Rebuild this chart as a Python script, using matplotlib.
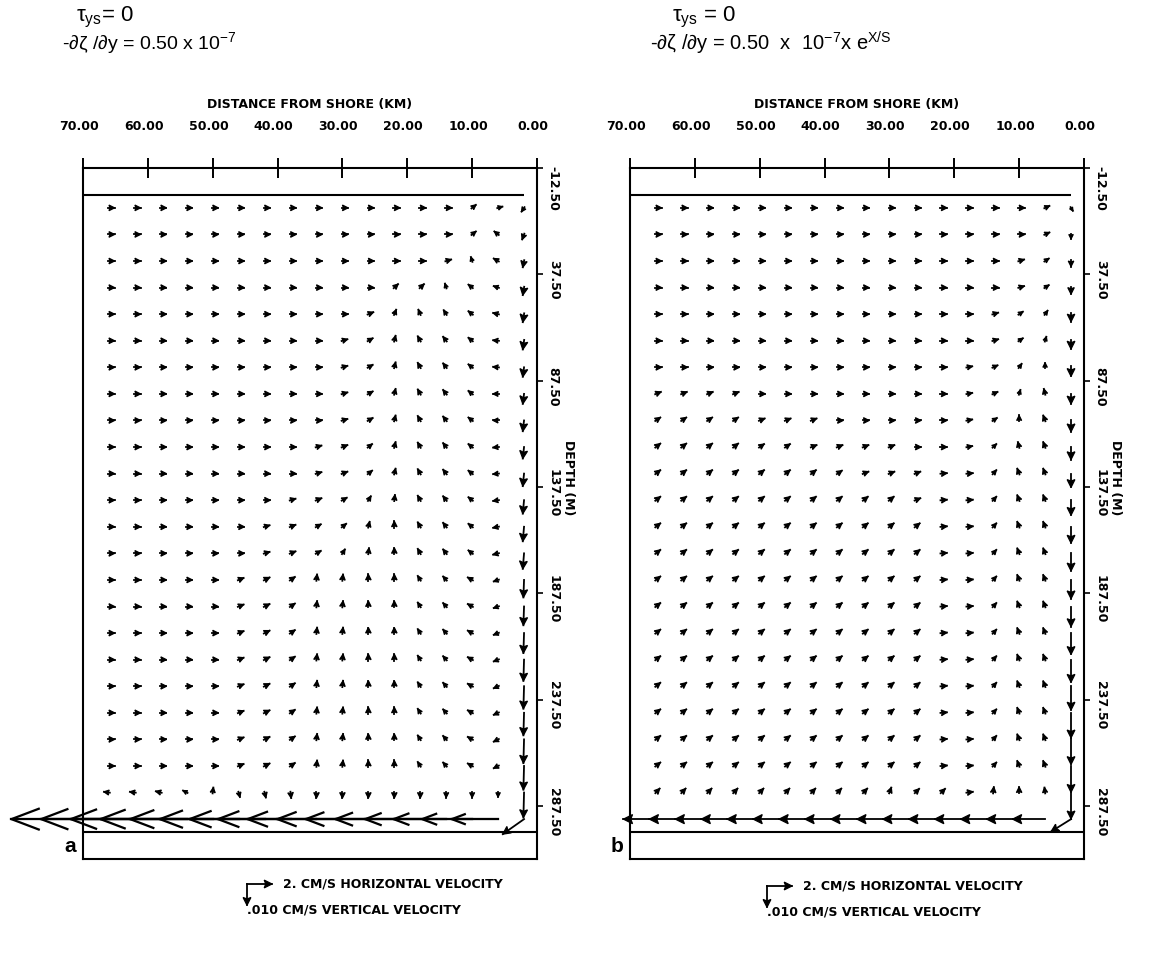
import numpy as np
import matplotlib
matplotlib.use('Agg')
import matplotlib.pyplot as plt
from matplotlib import transforms as mtransforms
from matplotlib.lines import Line2D
from matplotlib.patches import Polygon

plt.rcParams['font.family'] = ['DejaVu Sans']
plt.rcParams['mathtext.fontset'] = 'custom'
plt.rcParams['mathtext.rm'] = 'Liberation Sans'
plt.rcParams['mathtext.it'] = 'Liberation Sans:italic'

# ---- grid of the model (km from shore, depth in m)
DIST_KM = [66, 62, 58, 54, 50, 46, 42, 38, 34, 30, 26, 22, 18, 14, 10, 6, 2]
DEPTH_M = [6.25, 18.75, 31.25, 43.75, 56.25, 68.75, 81.25, 93.75, 106.25, 118.75,
           131.25, 143.75, 156.25, 168.75, 181.25, 193.75, 206.25, 218.75, 231.25,
           243.75, 256.25, 268.75, 281.25, 293.75]
XTICKS = [70, 60, 50, 40, 30, 20, 10, 0]
YTICKS = [-12.5, 37.5, 87.5, 137.5, 187.5, 237.5, 287.5]
SURFACE_M, BOTTOM_M = 0.0, 300.0
SURFACE_END_KM = 2.0
H_REF = 2.0      # cm/s  (legend horizontal arrow)
V_REF = 0.010    # cm/s  (legend vertical arrow)

# horizontal velocity u (cm/s, + onshore) and vertical velocity w (1e-3 cm/s, + up)
# panel a
U_A = [
    [.45, .45, .45, .45, .45, .45, .45, .45, .45, .45, .45, .45, .45, .45, .30, .35, -.20],
    [.45, .45, .45, .45, .45, .45, .45, .45, .45, .45, .45, .45, .45, .45, .30, -.30, -.15],
    [.45, .45, .45, .45, .45, .45, .45, .45, .45, .45, .45, .45, .45, .40, -.10, -.35, -.10],
    [.45, .45, .45, .45, .45, .45, .45, .45, .45, .45, .45, .30, .30, -.10, -.30, -.35, -.10],
    [.45, .45, .45, .45, .45, .45, .45, .45, .45, .45, .40, .15, -.15, -.20, -.30, -.40, -.10],
    [.45, .45, .45, .45, .45, .45, .45, .45, .45, .40, .35, .10, -.20, -.25, -.30, -.40, -.10],
    [.45, .45, .45, .45, .45, .45, .45, .45, .45, .40, .35, .10, -.20, -.25, -.30, -.40, -.10],
    [.45, .45, .45, .45, .45, .45, .45, .45, .45, .40, .35, .10, -.20, -.25, -.30, -.40, -.10],
    [.45, .45, .45, .45, .45, .45, .45, .45, .45, .40, .35, .10, -.20, -.25, -.30, -.40, -.10],
    [.45, .45, .45, .45, .45, .45, .45, .45, .40, .40, .30, .10, -.20, -.25, -.30, -.40, -.10],
    [.45, .45, .45, .45, .45, .45, .45, .45, .40, .40, .30, .10, -.20, -.25, -.30, -.40, -.10],
    [.45, .45, .45, .45, .45, .45, .45, .40, .40, .35, .20, .05, -.20, -.25, -.30, -.40, -.10],
    [.45, .45, .45, .45, .45, .45, .40, .40, .35, .30, .10, .00, -.20, -.25, -.30, -.40, -.10],
    [.45, .45, .45, .45, .45, .45, .40, .40, .35, .20, .05, .00, -.20, -.25, -.30, -.40, -.10],
    [.45, .45, .45, .45, .45, .40, .40, .35, .05, .05, .00, .00, -.20, -.25, -.35, -.35, -.05],
    [.45, .45, .45, .45, .45, .40, .40, .35, .05, .05, .00, .00, -.20, -.25, -.35, -.35, -.05],
    [.45, .45, .45, .45, .45, .40, .40, .35, .05, .05, .00, .00, -.20, -.25, -.35, -.35, -.05],
    [.45, .45, .45, .45, .45, .40, .40, .35, .05, .05, .00, .00, -.20, -.25, -.35, -.35, -.05],
    [.45, .45, .45, .45, .45, .40, .40, .35, .05, .05, .00, .00, -.20, -.25, -.35, -.35, -.05],
    [.45, .45, .45, .45, .45, .40, .40, .35, .05, .05, .00, .00, -.20, -.25, -.35, -.35, -.05],
    [.45, .45, .45, .45, .45, .40, .40, .35, .05, .05, .00, .00, -.20, -.25, -.35, -.35, -.05],
    [.45, .45, .45, .45, .45, .40, .40, .35, .05, .05, .00, .00, -.20, -.25, -.35, -.35, -.05],
    [-.40, -.40, -.40, -.30, .05, .10, .10, .05, .00, .00, .00, .00, .00, .00, .00, .00, -.05],
    [-7.8, -7.5, -7.2, -6.9, -6.6, -6.3, -6.0, -5.8, -5.5, -5.2, -5.0, -4.7, -4.4, -4.2, -4.0, -3.7, -1.7],
]
W_A = [
    [0, 0, 0, 0, 0, 0, 0, 0, 0, 0, 0, 0, 0, 0, 1.2, .5, -1.5],
    [0, 0, 0, 0, 0, 0, 0, 0, 0, 0, 0, 0, 0, 0, 1.2, 1.2, -2.0],
    [0, 0, 0, 0, 0, 0, 0, 0, 0, 0, 0, 0, 0, .6, 1.6, 1.0, -2.5],
    [0, 0, 0, 0, 0, 0, 0, 0, 0, 0, 0, 1.4, 1.4, 1.6, 1.2, .6, -3.0],
    [0, 0, 0, 0, 0, 0, 0, 0, 0, 0, .8, 1.8, 1.8, 1.6, 1.2, .5, -3.2],
    [0, 0, 0, 0, 0, 0, 0, 0, 0, .6, 1.0, 2.0, 1.8, 1.6, 1.2, .2, -3.5],
    [0, 0, 0, 0, 0, 0, 0, 0, 0, .6, 1.0, 2.0, 1.8, 1.6, 1.2, .2, -3.8],
    [0, 0, 0, 0, 0, 0, 0, 0, 0, .6, 1.0, 2.0, 1.8, 1.6, 1.2, .0, -4.0],
    [0, 0, 0, 0, 0, 0, 0, 0, 0, .6, 1.0, 2.0, 1.8, 1.6, 1.2, .0, -4.3],
    [0, 0, 0, 0, 0, 0, 0, 0, .6, .8, 1.2, 2.0, 1.8, 1.6, 1.2, -.2, -4.6],
    [0, 0, 0, 0, 0, 0, 0, 0, .6, .8, 1.2, 2.0, 1.8, 1.6, 1.2, -.2, -5.0],
    [0, 0, 0, 0, 0, 0, 0, .6, .8, 1.0, 1.6, 2.1, 1.8, 1.6, 1.2, -.3, -5.4],
    [0, 0, 0, 0, 0, 0, .6, .8, 1.0, 1.2, 2.0, 2.2, 1.8, 1.6, 1.2, -.4, -5.8],
    [0, 0, 0, 0, 0, 0, .6, .8, 1.0, 1.6, 2.1, 2.2, 1.8, 1.6, 1.2, -.5, -6.2],
    [0, 0, 0, 0, 0, .8, 1.0, 1.2, 2.2, 2.2, 2.2, 2.2, 1.6, 1.4, 1.0, -.6, -7.0],
    [0, 0, 0, 0, 0, .8, 1.0, 1.2, 2.2, 2.2, 2.2, 2.2, 1.6, 1.4, 1.0, -.6, -7.5],
    [0, 0, 0, 0, 0, .8, 1.0, 1.2, 2.2, 2.2, 2.2, 2.2, 1.6, 1.4, 1.0, -.7, -8.0],
    [0, 0, 0, 0, 0, .8, 1.0, 1.2, 2.2, 2.2, 2.2, 2.2, 1.6, 1.4, 1.0, -.7, -8.5],
    [0, 0, 0, 0, 0, .8, 1.0, 1.2, 2.2, 2.2, 2.2, 2.2, 1.6, 1.4, 1.0, -.8, -9.0],
    [0, 0, 0, 0, 0, .8, 1.0, 1.2, 2.2, 2.2, 2.2, 2.2, 1.6, 1.4, 1.0, -.8, -9.0],
    [0, 0, 0, 0, 0, .8, 1.0, 1.2, 2.2, 2.2, 2.2, 2.2, 1.6, 1.4, 1.0, -.9, -9.5],
    [0, 0, 0, 0, 0, .8, 1.0, 1.2, 2.2, 2.2, 2.2, 2.2, 1.6, 1.4, 1.0, -.9, -9.5],
    [.3, .3, .5, .8, 2.0, -1.8, -2.0, -2.2, -2.2, -2.2, -2.2, -2.2, -2.2, -2.0, -2.0, -1.8, -10.0],
    [0, 0, 0, 0, 0, 0, 0, 0, 0, 0, 0, 0, 0, 0, 0, 0, -6.0],
]
# panel b
U_B = [
    [.45, .45, .45, .45, .45, .45, .45, .45, .45, .45, .45, .45, .45, .45, .45, .35, .15],
    [.45, .45, .45, .45, .45, .45, .45, .45, .45, .45, .45, .45, .45, .45, .45, .35, .00],
    [.45, .45, .45, .45, .45, .45, .45, .45, .45, .45, .45, .45, .45, .45, .40, .30, .00],
    [.45, .45, .45, .45, .45, .45, .45, .45, .45, .45, .45, .45, .45, .45, .40, .30, .00],
    [.45, .45, .45, .45, .45, .45, .45, .45, .45, .45, .45, .45, .45, .40, .30, .20, .00],
    [.45, .45, .45, .45, .45, .45, .45, .45, .45, .45, .45, .45, .45, .40, .30, .10, .00],
    [.45, .45, .45, .45, .45, .45, .45, .45, .45, .45, .45, .45, .40, .35, .20, .00, .00],
    [.40, .40, .40, .40, .45, .45, .45, .45, .45, .45, .45, .45, .40, .35, .10, -.10, .00],
    [.35, .35, .35, .35, .40, .40, .40, .45, .45, .45, .45, .45, .40, .30, .00, -.15, .00],
    [.35, .35, .35, .35, .35, .35, .40, .40, .40, .40, .45, .45, .40, .25, -.10, -.15, .00],
    [.35, .35, .35, .35, .35, .35, .35, .35, .40, .40, .40, .45, .45, .25, -.15, -.15, .00],
    [.35, .35, .35, .35, .35, .35, .35, .35, .35, .35, .40, .45, .45, .25, -.15, -.15, .00],
    [.35, .35, .35, .35, .35, .35, .35, .35, .35, .35, .35, .45, .45, .25, -.15, -.15, .00],
    [.35, .35, .35, .35, .35, .35, .35, .35, .35, .35, .35, .45, .45, .25, -.15, -.15, .00],
    [.35, .35, .35, .35, .35, .35, .35, .35, .35, .35, .35, .45, .45, .25, -.15, -.15, .00],
    [.35, .35, .35, .35, .35, .35, .35, .35, .35, .35, .35, .45, .45, .25, -.15, -.15, .00],
    [.35, .35, .35, .35, .35, .35, .35, .35, .35, .35, .35, .45, .45, .25, -.15, -.15, .00],
    [.35, .35, .35, .35, .35, .35, .35, .35, .35, .35, .35, .45, .45, .25, -.15, -.15, .00],
    [.35, .35, .35, .35, .35, .35, .35, .35, .35, .35, .35, .45, .45, .25, -.15, -.15, .00],
    [.35, .35, .35, .35, .35, .35, .35, .35, .35, .35, .35, .45, .45, .25, -.15, -.15, .00],
    [.35, .35, .35, .35, .35, .35, .35, .35, .35, .35, .35, .45, .45, .25, -.15, -.15, .00],
    [.35, .35, .35, .35, .35, .35, .35, .35, .35, .35, .35, .45, .45, .25, -.15, -.15, .00],
    [.30, .30, .30, .30, .30, .30, .30, .30, .30, .15, .30, .30, .45, .05, .00, -.05, .00],
    [-2.6, -2.6, -2.6, -2.6, -2.6, -2.6, -2.6, -2.6, -2.6, -2.6, -2.6, -2.6, -2.6, -2.6, -2.6, -2.6, -1.6],
]
W_B = [
    [0, 0, 0, 0, 0, 0, 0, 0, 0, 0, 0, 0, 0, 0, 0, .8, -1.2],
    [0, 0, 0, 0, 0, 0, 0, 0, 0, 0, 0, 0, 0, 0, 0, .8, -1.8],
    [0, 0, 0, 0, 0, 0, 0, 0, 0, 0, 0, 0, 0, 0, .6, 1.0, -2.2],
    [0, 0, 0, 0, 0, 0, 0, 0, 0, 0, 0, 0, 0, 0, .6, 1.0, -2.6],
    [0, 0, 0, 0, 0, 0, 0, 0, 0, 0, 0, 0, 0, .6, 1.0, 1.4, -3.0],
    [0, 0, 0, 0, 0, 0, 0, 0, 0, 0, 0, 0, 0, .6, 1.0, 1.6, -3.3],
    [0, 0, 0, 0, 0, 0, 0, 0, 0, 0, 0, 0, .4, .8, 1.4, 1.8, -3.6],
    [.8, .8, .8, .8, 0, 0, 0, 0, 0, 0, 0, 0, .4, .8, 1.6, 2.0, -4.0],
    [1.2, 1.2, 1.2, 1.2, .8, .8, .8, 0, 0, 0, 0, 0, .4, 1.0, 2.0, 2.0, -4.5],
    [1.4, 1.4, 1.4, 1.4, 1.2, 1.2, .8, .8, .8, .8, 0, 0, .4, 1.2, 2.0, 2.0, -5.0],
    [1.4, 1.4, 1.4, 1.4, 1.4, 1.4, 1.4, 1.2, .8, .8, .8, .2, .2, 1.4, 2.0, 2.0, -5.5],
    [1.4, 1.4, 1.4, 1.4, 1.4, 1.4, 1.4, 1.4, 1.4, 1.4, .8, .2, .2, 1.4, 2.0, 2.0, -6.0],
    [1.4, 1.4, 1.4, 1.4, 1.4, 1.4, 1.4, 1.4, 1.4, 1.4, 1.4, .2, .2, 1.4, 2.0, 2.0, -6.5],
    [1.4, 1.4, 1.4, 1.4, 1.4, 1.4, 1.4, 1.4, 1.4, 1.4, 1.4, .2, .2, 1.4, 2.0, 2.0, -7.0],
    [1.4, 1.4, 1.4, 1.4, 1.4, 1.4, 1.4, 1.4, 1.4, 1.4, 1.4, .2, .2, 1.4, 2.0, 2.0, -7.5],
    [1.4, 1.4, 1.4, 1.4, 1.4, 1.4, 1.4, 1.4, 1.4, 1.4, 1.4, .2, .2, 1.4, 2.0, 2.0, -8.0],
    [1.4, 1.4, 1.4, 1.4, 1.4, 1.4, 1.4, 1.4, 1.4, 1.4, 1.4, .2, .2, 1.4, 2.0, 2.0, -8.5],
    [1.4, 1.4, 1.4, 1.4, 1.4, 1.4, 1.4, 1.4, 1.4, 1.4, 1.4, .2, .2, 1.4, 2.0, 2.0, -9.0],
    [1.4, 1.4, 1.4, 1.4, 1.4, 1.4, 1.4, 1.4, 1.4, 1.4, 1.4, .2, .2, 1.4, 2.0, 2.0, -9.5],
    [1.4, 1.4, 1.4, 1.4, 1.4, 1.4, 1.4, 1.4, 1.4, 1.4, 1.4, .2, .2, 1.4, 2.0, 2.0, -10.0],
    [1.4, 1.4, 1.4, 1.4, 1.4, 1.4, 1.4, 1.4, 1.4, 1.4, 1.4, .2, .2, 1.4, 2.0, 2.0, -10.0],
    [1.4, 1.4, 1.4, 1.4, 1.4, 1.4, 1.4, 1.4, 1.4, 1.4, 1.4, .2, .2, 1.4, 2.0, 2.0, -10.5],
    [1.6, 1.6, 1.6, 1.6, 1.6, 1.6, 1.6, 1.6, 1.6, 2.0, 1.5, 1.5, .3, 2.2, 2.2, 2.0, -10.5],
    [0, 0, 0, 0, 0, 0, 0, 0, 0, 0, 0, 0, 0, 0, 0, 0, -5.0],
]

TITLES_A = ['τ$_{\\mathrm{ys}}$= 0', '-∂ζ /∂y = 0.50 x 10$^{-7}$']
TITLES_B = ['τ$_{\\mathrm{ys}}$ = 0', '-∂ζ /∂y = 0.50  x  10$^{-7}$x e$^{\\mathrm{X/S}}$']

LREF_PT = 18.0
HEAD_MIN_PT = 5.6
LBL = dict(fontsize=9, fontweight='bold', family='DejaVu Sans')
TFONT = ['Liberation Sans', 'DejaVu Sans']

fig = plt.figure(figsize=(11.56, 9.64), dpi=100)


def draw_arrow(ax, x, y, dx, dy, trans, lw=1.3):
    # dx, dy in points, arrow tail sits at (x, y) of trans
    L = np.hypot(dx, dy)
    if L < 0.2:
        return
    ex, ey = dx / L, dy / L
    nx, ny = -ey, ex
    h = max(0.28 * L, min(L, HEAD_MIN_PT))
    big = h > 8
    hw = (0.38 if big else 0.5) * h
    bx, by = dx - h * ex, dy - h * ey
    p1 = (bx + hw * nx, by + hw * ny)
    p2 = (bx - hw * nx, by - hw * ny)
    notch = (dx - 0.8 * h * ex, dy - 0.8 * h * ey)
    t = (mtransforms.Affine2D().scale(1 / 72.) + fig.dpi_scale_trans
         + mtransforms.ScaledTranslation(x, y, trans))
    # small arrows: let the shaft stick out behind the head a little
    sx, sy = (0, 0) if L > h + 1 else (-0.6 * ex, -0.6 * ey)
    ax.add_line(Line2D([sx, dx], [sy, dy], transform=t, lw=lw * (1.25 if big else 1),
                       color='k', clip_on=False))
    if big:
        ax.add_line(Line2D([p1[0], dx, p2[0]], [p1[1], dy, p2[1]], transform=t,
                           lw=lw * 1.25, color='k', clip_on=False))
    else:
        ax.add_patch(Polygon([p1, (dx, dy), p2, notch], closed=True, transform=t,
                             fc='k', ec='k', lw=0.9, clip_on=False))


def panel(left_px, U, W, titles, title_px, title_fs, letter, legend_px):
    ax = fig.add_axes([left_px / 1156, 1 - 859 / 964, 454 / 1156, 691 / 964])
    ax.set_xlim(70, 0)
    ax.set_ylim(312.5, -12.5)
    for s in ax.spines.values():
        s.set_linewidth(1.5)
    ax.xaxis.tick_top()
    ax.set_xticks(XTICKS)
    ax.set_xticklabels(['%.2f' % v for v in XTICKS], **LBL)
    ax.tick_params(axis='x', direction='inout', length=15, width=1.4, pad=18)
    ax.xaxis.set_label_position('top')
    ax.set_xlabel('DISTANCE FROM SHORE (KM)', labelpad=8, **LBL)
    shift_x = mtransforms.ScaledTranslation(-0.04, 0, fig.dpi_scale_trans)
    for lab in ax.get_xticklabels():
        lab.set_transform(lab.get_transform() + shift_x)

    ax.yaxis.tick_right()
    ax.set_yticks(YTICKS)
    ax.set_yticklabels(['%.2f' % v for v in YTICKS], rotation=-90, va='center', **LBL)
    ax.tick_params(axis='y', direction='out', length=4, width=1.2, pad=3)
    for k, lab in enumerate(ax.get_yticklabels()):
        down = 0.20 if k == 0 else 0.06
        lab.set_transform(lab.get_transform()
                          + mtransforms.ScaledTranslation(0, -down, fig.dpi_scale_trans))
    ax.text(1.07, 0.552, 'DEPTH (M)', transform=ax.transAxes, rotation=-90,
            ha='center', va='center', **LBL)

    ax.hlines(SURFACE_M, 70, SURFACE_END_KM, color='k', lw=1.5)
    ax.hlines(BOTTOM_M, 70, 0, color='k', lw=1.5)

    for i, d in enumerate(DEPTH_M):
        for j, xk in enumerate(DIST_KM):
            dx = U[i][j] / H_REF * LREF_PT
            dy = W[i][j] * 1e-3 / V_REF * LREF_PT
            draw_arrow(ax, xk, d, dx, dy, ax.transData)

    fig.text(title_px[0][0] / 1156, 1 - title_px[0][1] / 964, titles[0],
             fontsize=16, va='center', family=TFONT)
    fig.text(title_px[1][0] / 1156, 1 - title_px[1][1] / 964, titles[1],
             fontsize=title_fs, va='center', family=TFONT)
    fig.text((left_px - 13) / 1156, 1 - 846 / 964, letter, fontsize=15,
             fontweight='bold', family='Liberation Sans', ha='center', va='center')

    # legend: reference arrows
    lx, ly = legend_px[0] / 1156, 1 - legend_px[1] / 964
    draw_arrow(ax, lx, ly, H_REF / H_REF * LREF_PT, 0, fig.transFigure)
    draw_arrow(ax, lx, ly, 0, -V_REF / V_REF * LREF_PT * 0.85, fig.transFigure)
    fig.text(lx + 36 / 1156, ly, '%g. CM/S HORIZONTAL VELOCITY' % H_REF,
             va='center', **LBL)
    fig.text(lx, ly - 26 / 964, '.%03d CM/S VERTICAL VELOCITY' % int(V_REF * 1000),
             va='center', **LBL)
    ax.set_xlim(70, 0)
    ax.set_ylim(312.5, -12.5)
    return ax


panel(83, U_A, W_A, TITLES_A, [(76, 17), (62, 43)], 14, 'a', (247, 884))
panel(630, U_B, W_B, TITLES_B, [(672, 17), (650, 43)], 14.5, 'b', (767, 886))

fig.savefig('out.png', dpi=100)
